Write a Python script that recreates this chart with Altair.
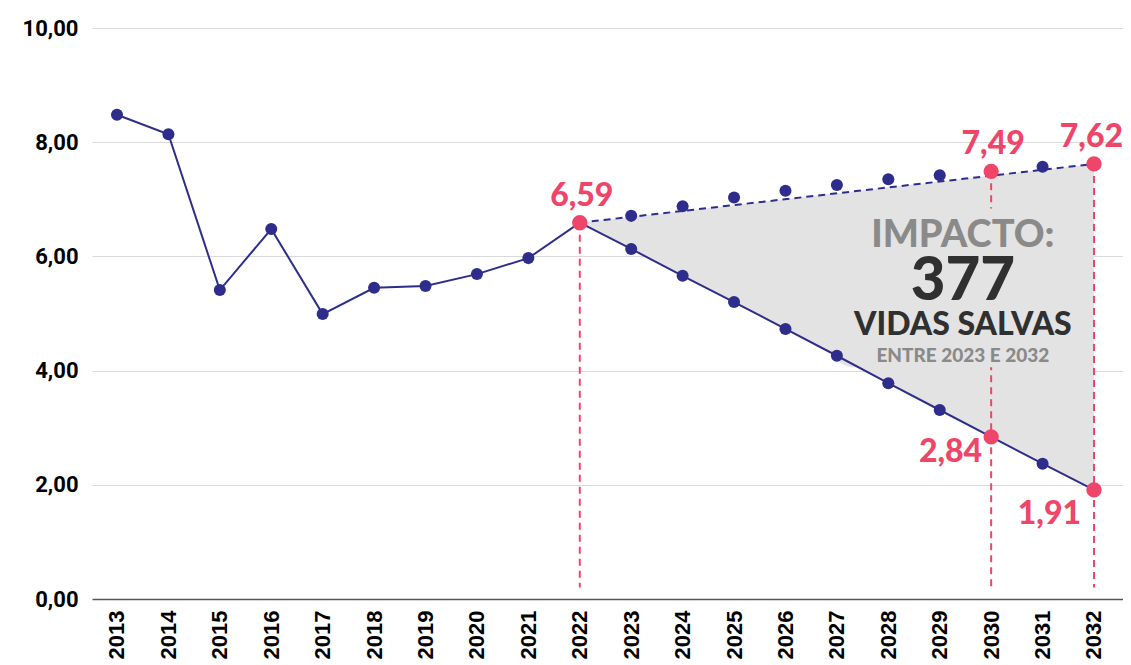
import altair as alt
import pandas as pd

# ---- data ----
years_hist = [2013, 2014, 2015, 2016, 2017, 2018, 2019, 2020, 2021, 2022]
values_hist = [8.48, 8.14, 5.41, 6.48, 4.99, 5.45, 5.48, 5.69, 5.97, 6.59]
years_proj = [2023, 2024, 2025, 2026, 2027, 2028, 2029, 2030, 2031, 2032]
values_decline = [6.13, 5.66, 5.20, 4.73, 4.26, 3.78, 3.31, 2.84, 2.37, 1.91]
values_trend = [6.71, 6.88, 7.03, 7.15, 7.25, 7.35, 7.42, 7.49, 7.57, 7.62]
y_ticks = [0, 2, 4, 6, 8, 10]

hl_above_years = [2022, 2030]
hl_above_values = [6.59, 7.49]
hl_above_labels = ["6,59", "7,49"]
hl_end_years = [2032]
hl_end_values = [7.62]
hl_end_labels = ["7,62"]
hl_left_years = [2030]
hl_left_values = [2.84]
hl_left_labels = ["2,84"]
hl_below_years = [2032]
hl_below_values = [1.91]
hl_below_labels = ["1,91"]

box_lines = ["IMPACTO:", "377", "VIDAS SALVAS", "ENTRE 2023 E 2032"]
box_line_values = [6.35, 5.55, 4.79, 4.26]
box_x = 2029.45
box_rect = dict(x=2026.9, x2=2030.8, y=4.06, y2=6.84)
rule_bottom = 0.2

NAVY = "#2e2d8b"
RED = "#ef4569"
GREY_AREA = "#e4e3e3"

# ---- tables ----
line_df = pd.DataFrame({"year": years_hist + years_proj,
                        "value": values_hist + values_decline})
trend_dots = pd.DataFrame({"year": years_proj, "value": values_trend})
dash_df = pd.DataFrame({"year": [years_hist[-1], years_proj[-1]],
                        "value": [values_hist[-1], values_trend[-1]]})
area_df = pd.DataFrame({"year": [years_hist[-1], years_proj[-1]],
                        "value": [values_hist[-1], values_trend[-1]],
                        "bottom": [values_hist[-1], values_decline[-1]]})
above_df = pd.DataFrame({"year": hl_above_years, "value": hl_above_values,
                         "label": hl_above_labels, "bottom": rule_bottom})
end_df = pd.DataFrame({"year": hl_end_years, "value": hl_end_values,
                       "label": hl_end_labels, "bottom": rule_bottom})
left_df = pd.DataFrame({"year": hl_left_years, "value": hl_left_values,
                        "label": hl_left_labels})
below_df = pd.DataFrame({"year": hl_below_years, "value": hl_below_values,
                         "label": hl_below_labels})
box_df = pd.DataFrame({"year": [box_rect["x"]], "x2": [box_rect["x2"]],
                       "value": [box_rect["y"]], "y2": [box_rect["y2"]]})
box_text_df = pd.DataFrame({"line": box_lines, "value": box_line_values,
                            "year": box_x, "idx": [0, 1, 2, 3]})

xscale = alt.Scale(domain=[2012.514, 2032.564], nice=False, zero=False)
yscale = alt.Scale(domain=[0, 10], nice=False)

x_axis = alt.Axis(values=years_hist + years_proj, format="d", labelAngle=270,
                  labelOverlap=False, labelBound=False, labelFlush=False)
y_axis = alt.Axis(values=y_ticks,
                  labelExpr="replace(format(datum.value, '.2f'), '.', ',')")

X = alt.X("year:Q", scale=xscale, title=None, axis=x_axis)
Y = alt.Y("value:Q", scale=yscale, title=None, axis=y_axis)

area = alt.Chart(area_df).mark_area(color=GREY_AREA).encode(x=X, y=Y, y2="bottom:Q")

rule_style = dict(color=RED, strokeWidth=2, strokeDash=[7, 5])
rules = alt.layer(
    alt.Chart(above_df).mark_rule(**rule_style).encode(x=X, y=Y, y2="bottom:Q"),
    alt.Chart(end_df).mark_rule(**rule_style).encode(x=X, y=Y, y2="bottom:Q"),
)

box = alt.Chart(box_df).mark_rect(color=GREY_AREA, cornerRadius=22).encode(
    x=X, x2="x2:Q", y=Y, y2="y2:Q")

dash = alt.Chart(dash_df).mark_line(color=NAVY, strokeWidth=2,
                                    strokeDash=[7, 5]).encode(x=X, y=Y)

line = alt.Chart(line_df).mark_line(color=NAVY, strokeWidth=2).encode(x=X, y=Y)

dots = alt.Chart(line_df).mark_circle(color=NAVY, size=145, opacity=1).encode(x=X, y=Y)
tdots = alt.Chart(trend_dots).mark_circle(color=NAVY, size=145, opacity=1).encode(x=X, y=Y)

pt_style = dict(color=RED, size=235, opacity=1)
red_pts = alt.layer(
    alt.Chart(above_df).mark_circle(**pt_style).encode(x=X, y=Y),
    alt.Chart(end_df).mark_circle(**pt_style).encode(x=X, y=Y),
    alt.Chart(left_df).mark_circle(**pt_style).encode(x=X, y=Y),
    alt.Chart(below_df).mark_circle(**pt_style).encode(x=X, y=Y),
)

lbl_style = dict(font="Lato", fontWeight=900, fontSize=32, color=RED)
lbl_above = alt.Chart(above_df).mark_text(align="center", baseline="alphabetic",
                                          dx=2, dy=-17, **lbl_style).encode(
    x=X, y=Y, text="label:N")
lbl_end = alt.Chart(end_df).mark_text(align="right", baseline="alphabetic",
                                      dx=29, dy=-17, **lbl_style).encode(
    x=X, y=Y, text="label:N")
lbl_left = alt.Chart(left_df).mark_text(align="right", baseline="alphabetic",
                                        dx=-9, dy=25, **lbl_style).encode(
    x=X, y=Y, text="label:N")
lbl_below = alt.Chart(below_df).mark_text(align="right", baseline="alphabetic",
                                          dx=-13, dy=34, **lbl_style).encode(
    x=X, y=Y, text="label:N")


def box_line(i, size, color):
    return alt.Chart(box_text_df).transform_filter(
        alt.datum.idx == i).mark_text(font="Lato", fontWeight=900,
                                      fontSize=size, color=color,
                                      align="center", baseline="middle").encode(
        x=X, y=Y, text="line:N")


box_text = alt.layer(box_line(0, 38, "#8a8a8a"), box_line(1, 60, "#2f302f"),
                     box_line(2, 32, "#2f302f"), box_line(3, 19, "#8a8a8a"))

chart = alt.layer(area, rules, box, dash, line, dots, tdots,
                  red_pts, lbl_above, lbl_end, lbl_left, lbl_below, box_text).properties(
    width=1031, height=571,
    autosize=alt.AutoSizeParams(type="none"),
    padding={"left": 84, "top": 20, "right": 0, "bottom": 64},
    background="white",
).configure_view(stroke=None).configure_axisX(
    title=None, labelFont="Liberation Sans", labelFontWeight="bold",
    labelFontSize=22, labelColor="#000000", labelPadding=11,
    ticks=False, grid=False, domain=True, domainColor="#555555", domainWidth=1.5,
).configure_axisY(
    title=None, labelFont="Roboto", labelFontWeight="bold",
    labelFontSize=22, labelColor="#000000", labelPadding=14,
    ticks=False, domain=False, grid=True, gridColor="#d9d9d9", gridWidth=1.2,
)

chart.save("out.html", embed_options={"renderer": "svg", "actions": False})
